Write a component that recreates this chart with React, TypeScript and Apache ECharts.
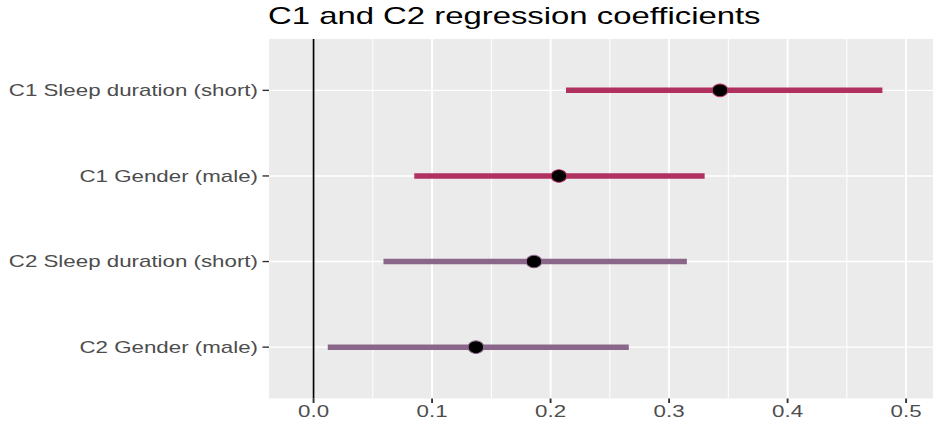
import React, { useEffect, useRef } from "react";
import * as echarts from "echarts";

const chartTitle = "C1 and C2 regression coefficients";
const categories = [
  "C1 Sleep duration (short)",
  "C1 Gender (male)",
  "C2 Sleep duration (short)",
  "C2 Gender (male)",
];
const groups = ["C1", "C1", "C2", "C2"];
const estimates = [0.343, 0.207, 0.186, 0.137];
const lowerCI = [0.213, 0.085, 0.059, 0.012];
const upperCI = [0.48, 0.33, 0.315, 0.266];
const xTicks = [0, 0.1, 0.2, 0.3, 0.4, 0.5];
const xTickLabels = ["0.0", "0.1", "0.2", "0.3", "0.4", "0.5"];
const xMinorTicks = [0.05, 0.15, 0.25, 0.35, 0.45];
const xRange = [-0.0376, 0.5227];
const yRange = [0.4, 4.6];
const refLine = 0;
const groupColors: Record<string, string> = { C1: "#B03060", C2: "#8B668B" };

const FONT = '"Liberation Sans", Arial, Helvetica, sans-serif';
const STRETCH = 1.395;

export default function App() {
  const ref = useRef<HTMLDivElement>(null);

  useEffect(() => {
    if (!ref.current) return;
    const chart = echarts.init(ref.current, null, { renderer: "svg" });
    const positions = categories.map((_, i) => i + 1);

    const option: any = {
      animation: false,
      grid: {
        left: 269,
        top: 39,
        right: 0,
        bottom: 30.5,
        show: true,
        backgroundColor: "#EBEBEB",
        borderWidth: 0,
        containLabel: false,
      },
      graphic: [
        {
          type: "text",
          x: 268,
          y: 16,
          scaleX: 1.37,
          style: {
            text: chartTitle,
            fill: "#000000",
            fontSize: 24,
            fontFamily: FONT,
            align: "left",
            verticalAlign: "middle",
          },
        },
      ],
      xAxis: {
        type: "value",
        min: xRange[0],
        max: xRange[1],
        show: false,
      },
      yAxis: {
        type: "value",
        min: yRange[0],
        max: yRange[1],
        inverse: true,
        show: false,
      },
      series: [
        {
          type: "custom",
          z: 1,
          clip: false,
          silent: true,
          data: [[0, 1]],
          renderItem: (params: any, api: any) => {
            const cs = params.coordSys;
            const children: any[] = [];
            const bottom = cs.y + cs.height;
            xMinorTicks.forEach((v) => {
              const x = api.coord([v, 1])[0];
              children.push({
                type: "line",
                shape: { x1: x, y1: cs.y, x2: x, y2: bottom },
                style: { stroke: "#FFFFFF", lineWidth: 1.0 },
              });
            });
            xTicks.forEach((v) => {
              const x = api.coord([v, 1])[0];
              children.push({
                type: "line",
                shape: { x1: x, y1: cs.y, x2: x, y2: bottom },
                style: { stroke: "#FFFFFF", lineWidth: 1.9 },
              });
            });
            positions.forEach((p) => {
              const y = api.coord([0, p])[1];
              children.push({
                type: "line",
                shape: { x1: cs.x, y1: y, x2: cs.x + cs.width, y2: y },
                style: { stroke: "#FFFFFF", lineWidth: 1.4 },
              });
            });
            xTicks.forEach((v, i) => {
              const x = api.coord([v, 1])[0];
              children.push({
                type: "line",
                shape: { x1: x, y1: bottom, x2: x, y2: bottom + 4.5 },
                style: { stroke: "#333333", lineWidth: 1.9 },
              });
              children.push({
                type: "text",
                x: x,
                y: bottom + 13,
                scaleX: STRETCH,
                style: {
                  text: xTickLabels[i],
                  fill: "#4D4D4D",
                  fontSize: 16,
                  fontFamily: FONT,
                  align: "center",
                  verticalAlign: "middle",
                },
              });
            });
            positions.forEach((p, i) => {
              const y = api.coord([0, p])[1];
              children.push({
                type: "line",
                shape: { x1: cs.x - 6.5, y1: y, x2: cs.x, y2: y },
                style: { stroke: "#333333", lineWidth: 1.4 },
              });
              children.push({
                type: "text",
                x: cs.x - 11,
                y: y,
                scaleX: STRETCH,
                style: {
                  text: categories[i],
                  fill: "#4D4D4D",
                  fontSize: 16,
                  fontFamily: FONT,
                  align: "right",
                  verticalAlign: "middle",
                },
              });
            });
            const x0 = api.coord([refLine, 1])[0];
            children.push({
              type: "line",
              shape: { x1: x0, y1: cs.y, x2: x0, y2: bottom },
              style: { stroke: "#000000", lineWidth: 1.7 },
            });
            return { type: "group", children };
          },
        },
        {
          type: "custom",
          z: 3,
          clip: false,
          silent: true,
          encode: { x: [0, 1], y: 2 },
          data: categories.map((_, i) => [lowerCI[i], upperCI[i], i + 1, i]),
          renderItem: (params: any, api: any) => {
            const idx = api.value(3);
            const a = api.coord([api.value(0), api.value(2)]);
            const b = api.coord([api.value(1), api.value(2)]);
            return {
              type: "line",
              shape: { x1: a[0], y1: a[1], x2: b[0], y2: b[1] },
              style: {
                stroke: groupColors[groups[idx]],
                lineWidth: 5.5,
                lineCap: "butt",
              },
            };
          },
        },
        {
          type: "scatter",
          z: 4,
          silent: true,
          symbol: "circle",
          symbolSize: [15.5, 12.5],
          itemStyle: { opacity: 1 },
          data: estimates.map((e, i) => ({
            value: [e, i + 1],
            itemStyle: {
              color: "#000000",
              opacity: 1,
              borderColor: groupColors[groups[i]],
              borderWidth: 1,
            },
          })),
        },
      ],
    };

    chart.setOption(option);
    return () => {
      chart.dispose();
    };
  }, []);

  return (
    <div
      ref={ref}
      style={{ position: "absolute", left: 0, top: 0, width: 933, height: 429 }}
    />
  );
}
